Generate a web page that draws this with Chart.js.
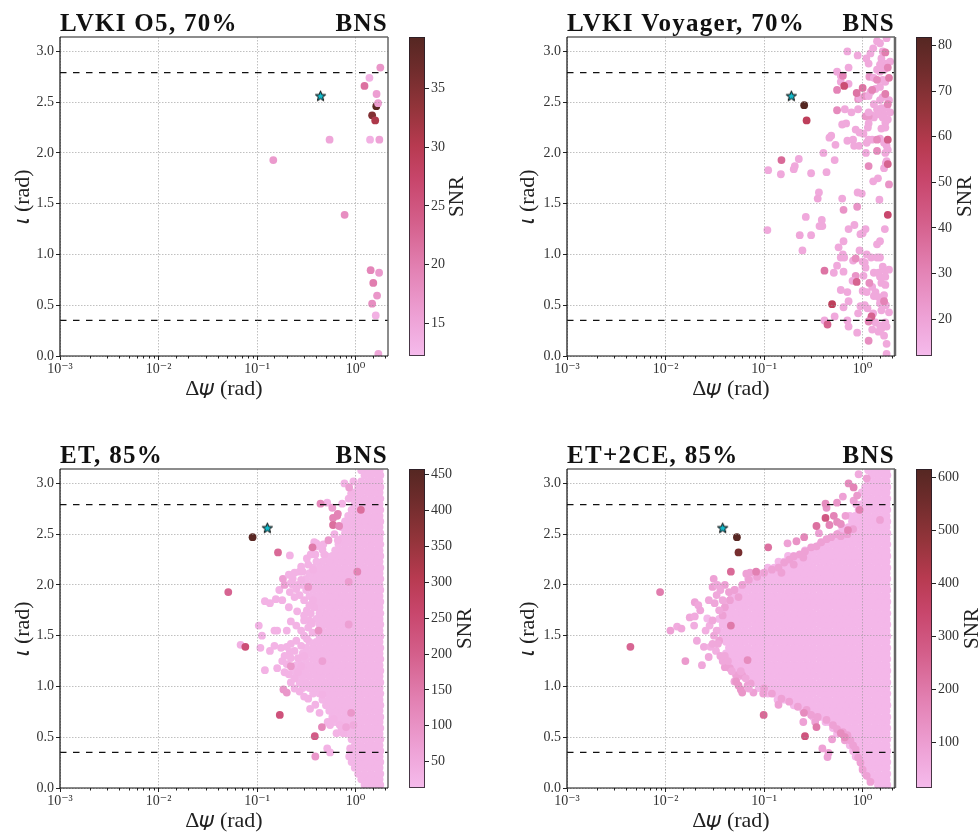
<!DOCTYPE html>
<html><head><meta charset="utf-8">
<script src="https://cdn.jsdelivr.net/npm/chart.js@4"></script>
<style>html,body{margin:0;padding:0;background:#fff;width:979px;height:832px;overflow:hidden}canvas{position:absolute;display:block}</style>
</head><body>
<script>
const cmapStops=[[0,'#f5bbec'],[.12,'#eea2d6'],[.27,'#e382b4'],[.42,'#d45f8b'],[.55,'#c8466c'],[.66,'#b73a50'],[.78,'#92343a'],[.9,'#6f2c2c'],[1,'#552722']];
const titleLeft=['LVKI O5, 70%','LVKI Voyager, 70%','ET, 85%','ET+2CE, 85%'];
const snrMin=[12.2,11.9,13.3,14.5];
const snrMax=[39.4,81.9,458,616];
const snrTicks=[[15,20,25,30,35],[20,30,40,50,60,70,80],[50,100,150,200,250,300,350,400,450],[100,200,300,400,500,600]];
const starX=[.44,.189,.127,.038];
const starY=[2.56,2.56,2.56,2.56];
const dashY=[.35,2.79];
const xMin=1e-3,xMax=2.13,yMax=3.14159;
const o5Points=[[1.78,2.84,17],[1.38,2.74,13.5],[1.23,2.66,21.5],[1.63,2.58,16],[1.62,2.46,39],[1.69,2.49,16],[1.47,2.37,35],[1.58,2.32,31],[.544,2.13,15],[1.4,2.13,13.5],[1.74,2.13,15.5],[.146,1.93,16.5],[.773,1.39,18],[1.42,.845,19],[1.73,.82,16.5],[1.51,.72,20],[1.65,.595,17],[1.47,.515,18],[1.6,.4,13.5],[1.7,.02,15]];
const voyagerPoints=[[.7,3],[.89,2.96],[1.09,2.93],[1.2,2.98],[1.28,3.03],[1.4,3.1],[1.5,3.08],[1.75,3.13],[1.6,3],[1.55,2.93],[1.9,2.9],[1.75,2.88],[1.5,2.87],[1.15,2.88],[.72,2.84],[.55,2.8],[.6,2.76],[.6,2.7],[.72,2.68],[.9,2.53,25],[.93,2.54],[1.05,2.56,25],[1.15,2.56],[1.2,2.6],[1.17,2.75,24],[1.3,2.74],[1.5,2.8],[1.4,2.82],[1.65,2.82],[1.6,2.72],[1.7,2.7],[1.5,2.65],[1.35,2.63],[1.6,2.55],[1.85,2.52],[1.5,2.52],[1.3,2.48],[1.4,2.43],[1.55,2.44],[1.75,2.45],[1.9,2.4],[1.65,2.38],[1.45,2.38],[1.3,2.35],[1.25,2.37],[1.15,2.36,24],[1.07,2.36,24],[1.15,2.4],[1.8,2.33],[1.6,2.35],[1.7,2.3],[1.15,2.29],[1.13,2.25],[1.7,2.25],[1.55,2.24],[.66,2.43],[.77,2.4],[.9,2.43],[.62,2.28],[.68,2.29],[.85,2.23],[.93,2.2],[1.02,2.19],[.46,2.15],[.48,2.17],[.53,2.08],[.7,2.12],[.8,2.13],[.82,2.07],[.92,2.07],[1.1,2.1],[1.15,2.13],[1.25,2.13],[1.5,2.14],[1.65,2.1],[1.75,2.07],[1.8,2.03],[1.7,2],[1.08,2],[.4,2],[.52,1.93],[.225,1.94],[.205,1.87],[.2,1.84],[.11,1.83],[.148,1.79],[.3,1.8],[.43,1.81],[1.75,1.92],[1.65,1.85],[1.72,1.9],[1.28,1.72],[1.43,1.75],[1.85,1.69,25],[.36,1.61],[.35,1.55,19],[.62,1.55],[.89,1.61],[.98,1.6],[1.48,1.54],[.265,1.37],[.385,1.34],[.365,1.28],[.39,1.28],[.825,1.29],[.72,1.25],[1.07,1.25],[1.68,1.25],[.95,1.2],[1,1.21],[.108,1.24],[.23,1.19,19],[.3,1.19],[.64,1.13],[.57,1.07],[1.4,1.1],[1.5,1.13],[.245,1.04],[.93,1.04],[1.1,1],[.63,1],[.6,.97],[.65,.97],[.8,.94],[1,.93],[1.22,.97],[1.4,.97],[1.5,.97],[1.05,.92],[.55,.89],[1.07,.87],[.51,.82],[.64,.83],[1.02,.79],[1.3,.82],[1.45,.82],[1.6,.88],[1.7,.84],[1.85,.85],[1.5,.78],[1.7,.78],[.85,.79,25],[.79,.74],[1.25,.68],[1.55,.72],[1.7,.7],[1.35,.63],[.7,.63],[.6,.65],[1,.64],[1.1,.63],[1.65,.6],[1.3,.59],[1.45,.58],[.72,.54],[1.72,.5],[.64,.48],[.95,.49],[1.05,.5],[1.12,.47],[1.5,.52],[1.55,.45],[1.85,.43],[1.28,.42],[.9,.42],[1.2,.36],[.52,.39],[.41,.35],[.7,.35],[.72,.29],[1.35,.33],[1.5,.3],[1.55,.27],[1.7,.33],[1.25,.26],[1.45,.24],[.88,.23],[1.65,.2],[1.75,.29],[1.75,.12],[1.75,.02],
[1.7,2.99,32],[.63,2.76,30],[.65,2.66,48],[.55,2.62,30],[1,2.64,35],[.87,2.59,35],[1.25,2.62,30],[1.4,2.72,28],[1.8,2.84,30],[1.85,2.74,33],[1.7,2.58,32],[1.8,2.48,30],[.55,2.42,28],[1.4,2.13,28],[1.8,2.13,42],[1.4,2.02,28],[.15,1.93,38],[1.15,1.87,28],[1.8,1.89,40],[.64,1.44,25],[.88,1.47,25],[1.8,1.39,50],[.85,.96,27],[.41,.84,35],[.87,.73,40],[1.17,.72,27],[1.65,.54,30],[.49,.51,55],[1.23,.39,40],[1.15,.34,30],[.44,.31,40],[1.15,.15,27],[.255,2.47,82],[.27,2.32,55]];
const etRows=[[.03,[1.78,1.67,1.43,1.23]],[.085,[1.75,1.55,1.33,1.14]],[.14,[1.78,1.67,1.43,1.23,1.06]],[.2,[1.75,1.55,1.33,1.14,.98]],[.255,[1.78,1.67,1.43,1.23,1.06,.91]],[.31,[1.75,1.55,1.33,1.14,.98,.86]],[.365,[1.78,1.66,1.43,1.23,1.06,.92]],[.42,[1.75,1.55,1.33,1.14,.98]],[.48,[1.78,1.67,1.43,1.23,1.06,.91]],[.535,[1.75,1.55,1.33,1.14,.98,.84]],[.59,[1.78,1.67,1.43,1.23,1.06,.91,.78]],[.65,[1.75,1.55,1.33,1.14,.98,.84,.72,.62]],[.7,[1.78,1.67,1.43,1.23,1.06,.91,.78,.67,.58]],[.76,[1.75,1.55,1.33,1.14,.98,.84,.72,.62,.54]],[.815,[1.78,1.67,1.43,1.23,1.06,.91,.78,.67,.58,.5]],[.87,[1.75,1.55,1.33,1.14,.98,.84,.72,.62,.54,.46]],[.93,[1.78,1.67,1.43,1.23,1.06,.91,.78,.67,.58,.5,.43,.37]],[.985,[1.75,1.55,1.33,1.14,.98,.84,.72,.62,.54,.46,.4,.34,.29]],[1.04,[1.78,1.67,1.43,1.23,1.06,.91,.78,.67,.58,.5,.43,.37,.315,.27]],[1.1,[1.75,1.55,1.33,1.14,.98,.84,.72,.62,.54,.46,.4,.34,.29,.25]],[1.155,[1.78,1.67,1.43,1.23,1.06,.91,.78,.67,.58,.5,.43,.37,.315,.27,.233]],[1.21,[1.75,1.55,1.33,1.14,.98,.84,.72,.62,.54,.46,.4,.34,.29,.25]],[1.27,[1.78,1.67,1.43,1.23,1.06,.91,.78,.67,.58,.5,.43,.37,.315,.27]],[1.325,[1.75,1.55,1.33,1.14,.98,.84,.72,.62,.54,.46,.4,.34,.29]],[1.38,[1.78,1.67,1.43,1.23,1.06,.91,.78,.67,.58,.5,.43,.37,.315]],[1.44,[1.75,1.55,1.33,1.14,.98,.84,.72,.62,.54,.46,.4,.34]],[1.495,[1.78,1.67,1.43,1.23,1.06,.91,.78,.67,.58,.5,.43]],[1.55,[1.75,1.55,1.33,1.14,.98,.84,.72,.62,.54,.46]],[1.61,[1.78,1.67,1.43,1.23,1.06,.91,.78,.67,.58,.5,.43]],[1.665,[1.75,1.55,1.33,1.14,.98,.84,.72,.62,.54,.46,.4]],[1.72,[1.78,1.67,1.43,1.23,1.06,.91,.78,.67,.58,.5,.43]],[1.78,[1.75,1.55,1.33,1.14,.98,.84,.72,.62,.54,.46,.4]],[1.835,[1.78,1.67,1.43,1.23,1.06,.91,.78,.67,.58,.5,.43,.37]],[1.89,[1.75,1.55,1.33,1.14,.98,.84,.72,.62,.54,.46,.4,.34]],[1.95,[1.78,1.67,1.43,1.23,1.06,.91,.78,.67,.58,.5,.43,.37,.315]],[2,[1.75,1.55,1.33,1.14,.98,.84,.72,.62,.54,.46,.4,.34,.29]],[2.06,[1.78,1.67,1.43,1.23,1.06,.91,.78,.67,.58,.5,.43,.37,.315]],[2.115,[1.75,1.55,1.33,1.14,.98,.84,.72,.62,.54,.46,.4,.34]],[2.17,[1.78,1.67,1.43,1.23,1.06,.91,.78,.67,.58,.5,.43,.37]],[2.23,[1.75,1.55,1.33,1.14,.98,.84,.72,.62,.54,.46,.4]],[2.285,[1.78,1.67,1.43,1.23,1.06,.91,.78,.67,.58,.5]],[2.34,[1.75,1.55,1.33,1.14,.98,.84,.72,.62]],[2.4,[1.78,1.67,1.43,1.23,1.06,.91,.78,.67]],[2.455,[1.75,1.55,1.33,1.14,.98,.84,.72]],[2.51,[1.78,1.67,1.43,1.23,1.06,.91,.78]],[2.57,[1.75,1.55,1.33,1.14,.98,.84,.72]],[2.625,[1.78,1.67,1.43,1.23,1.06,.91,.78]],[2.68,[1.75,1.55,1.33,1.14,.98,.84]],[2.74,[1.78,1.67,1.43,1.23,1.06,.91]],[2.795,[1.75,1.55,1.33,1.14,.98]],[2.85,[1.78,1.67,1.43,1.23,1.06,.94]],[2.91,[1.75,1.55,1.33,1.14,.98]],[2.965,[1.78,1.67,1.43,1.23,1.06]],[3.02,[1.75,1.55,1.33,1.14]],[3.08,[1.78,1.67,1.43,1.23]],[3.13,[1.75,1.55,1.33,1.14]]];
const etScatter=[[.104,1.6],[.112,1.5],[.108,1.38],[.12,1.84],[.135,1.82],[.155,1.86],[.18,1.85],[.168,1.95],[.183,2.06,70],[.19,2,70],[.21,2.1],[.23,2.06],[.27,2.13],[.29,2.13],[.28,2.05],[.25,1.96],[.215,1.93],[.27,1.9],[.21,1.78],[.255,1.74],[.32,1.75],[.15,1.55],[.16,1.55],[.2,1.55],[.22,1.64],[.25,1.6],[.28,1.55],[.32,1.47],[.365,1.53],[.135,1.35],[.15,1.4],[.175,1.38],[.2,1.39],[.22,1.42],[.215,1.34],[.18,1.25],[.16,1.18],[.12,1.16],[.19,1.14],[.22,1.04],[.24,.98],[.345,.78],[.515,.39],[.55,.35],[.55,.62],[.64,.54],[.75,.54],[.69,.62],[.88,.39],[.515,2.81],[.215,2.29],[.38,2.42],[.4,2.41],[.77,3],[.26,1.14],[.3,1.3],[.28,1.2],[.34,1.65],[.37,1.85],[.33,2.2],[.39,2.3],[.46,2.35],[.61,2.5],[.66,2.44],[.73,2.8],[.85,2.85],[.9,2.9],[.95,3.02],
[.25,1.45],[.28,1.4],[.3,1.5],[.33,1.58],[.36,1.62],[.3,1.65],[.35,1.72],[.3,1.7],[.38,1.78],[.34,1.8],[.3,1.85],[.24,1.88],[.26,2],[.23,2],[.24,2.12],[.22,2.02],[.28,2.18],[.32,2.26],[.35,2.3],[.4,2.38],[.47,2.4],[.48,2.3],[.37,2.15],[.22,1.28],[.24,1.35],[.26,1.28],[.19,1.3],[.2,1.22],[.21,1.12],[.24,1.08],[.27,.95],[.3,.9],[.33,.88],[.39,.82],[.43,.74],[.52,.65],[.6,.68],[.72,.58],[.46,.92],
[.068,1.41,35],[.33,1.98,90],[.42,1.55,100],[.22,1.2,90],[.185,.97,90],[.2,.94,90],[.455,.6,120],[.39,.31,90],[.53,2.44,90],[.44,2.8,120],[.58,2.76,80],[.86,2.96,70],[.85,2.03,80],[.9,.74,90],[.46,1.25,70],[.85,1.61,70],[.8,.6,60],[.95,.62,50],[.365,2.37,150],[.59,2.66,130],[.65,2.68,130],[.66,2.7,130],[.59,2.59,170],[.68,2.58,120],[1.13,2.74,170],[1.04,2.13,130],[.163,2.32,180],[.051,1.93,190],[.076,1.39,240],[.17,.72,230],[.385,.51,210],[.09,2.47,450]];
const et2ceRows=[[.03,[1.78,1.67,1.43]],[.085,[1.75,1.55,1.33,1.2]],[.14,[1.78,1.67,1.43,1.23,1.06]],[.2,[1.75,1.55,1.33,1.14,1]],[.255,[1.78,1.67,1.43,1.23,1.06,.96]],[.31,[1.75,1.55,1.33,1.14,.98,.85]],[.365,[1.78,1.67,1.43,1.23,1.06,.91,.8]],[.42,[1.75,1.55,1.33,1.14,.98,.84,.74]],[.48,[1.78,1.67,1.43,1.23,1.06,.91,.78,.67]],[.535,[1.75,1.55,1.33,1.14,.98,.84,.72,.62,.55]],[.59,[1.78,1.67,1.43,1.23,1.06,.91,.78,.67,.58,.5]],[.65,[1.75,1.55,1.33,1.14,.98,.84,.72,.62,.54,.46,.42]],[.7,[1.78,1.67,1.43,1.23,1.06,.91,.78,.67,.58,.5,.43,.37,.315]],[.76,[1.75,1.55,1.33,1.14,.98,.84,.72,.62,.54,.46,.4,.34,.29,.25]],[.815,[1.78,1.67,1.43,1.23,1.06,.91,.78,.67,.58,.5,.43,.37,.315,.27,.233,.2]],[.87,[1.75,1.55,1.33,1.14,.98,.84,.72,.62,.54,.46,.4,.34,.29,.25,.215,.185,.16,.137]],[.93,[1.78,1.67,1.43,1.23,1.06,.91,.78,.67,.58,.5,.43,.37,.315,.27,.233,.2,.172,.148,.127,.109]],[.985,[1.75,1.55,1.33,1.14,.98,.84,.72,.62,.54,.46,.4,.34,.29,.25,.215,.185,.16,.137,.118,.101,.088]],[1.04,[1.78,1.67,1.43,1.23,1.06,.91,.78,.67,.58,.5,.43,.37,.315,.27,.233,.2,.172,.148,.127,.109,.094,.081]],[1.1,[1.75,1.55,1.33,1.14,.98,.84,.72,.62,.54,.46,.4,.34,.29,.25,.215,.185,.16,.137,.118,.101,.087,.075,.064,.056]],[1.155,[1.78,1.67,1.43,1.23,1.06,.91,.78,.67,.58,.5,.43,.37,.315,.27,.233,.2,.172,.148,.127,.109,.094,.081,.069,.059,.051]],[1.21,[1.75,1.55,1.33,1.14,.98,.84,.72,.62,.54,.46,.4,.34,.29,.25,.215,.185,.16,.137,.118,.101,.087,.075,.064,.055,.047]],[1.27,[1.78,1.67,1.43,1.23,1.06,.91,.78,.67,.58,.5,.43,.37,.315,.27,.233,.2,.172,.148,.127,.109,.094,.081,.069,.059,.051,.045]],[1.325,[1.75,1.55,1.33,1.14,.98,.84,.72,.62,.54,.46,.4,.34,.29,.25,.215,.185,.16,.137,.118,.101,.087,.075,.064,.055,.047,.041]],[1.38,[1.78,1.67,1.43,1.23,1.06,.91,.78,.67,.58,.5,.43,.37,.315,.27,.233,.2,.172,.148,.127,.109,.094,.081,.069,.059,.051,.044]],[1.44,[1.75,1.55,1.33,1.14,.98,.84,.72,.62,.54,.46,.4,.34,.29,.25,.215,.185,.16,.137,.118,.101,.087,.075,.064,.055,.047,.041]],[1.495,[1.78,1.67,1.43,1.23,1.06,.91,.78,.67,.58,.5,.43,.37,.315,.27,.233,.2,.172,.148,.127,.109,.094,.081,.069,.059,.051,.044,.038]],[1.55,[1.75,1.55,1.33,1.14,.98,.84,.72,.62,.54,.46,.4,.34,.29,.25,.215,.185,.16,.137,.118,.101,.087,.075,.064,.055,.047,.041,.035]],[1.61,[1.78,1.67,1.43,1.23,1.06,.91,.78,.67,.58,.5,.43,.37,.315,.27,.233,.2,.172,.148,.127,.109,.094,.081,.069,.059,.051,.044,.038]],[1.665,[1.75,1.55,1.33,1.14,.98,.84,.72,.62,.54,.46,.4,.34,.29,.25,.215,.185,.16,.137,.118,.101,.087,.075,.064,.055,.047,.041,.035]],[1.72,[1.78,1.67,1.43,1.23,1.06,.91,.78,.67,.58,.5,.43,.37,.315,.27,.233,.2,.172,.148,.127,.109,.094,.081,.069,.059,.051,.044,.038]],[1.78,[1.75,1.55,1.33,1.14,.98,.84,.72,.62,.54,.46,.4,.34,.29,.25,.215,.185,.16,.137,.118,.101,.087,.075,.064,.055,.047,.041]],[1.835,[1.78,1.67,1.43,1.23,1.06,.91,.78,.67,.58,.5,.43,.37,.315,.27,.233,.2,.172,.148,.127,.109,.094,.081,.069,.059,.051,.044]],[1.89,[1.75,1.55,1.33,1.14,.98,.84,.72,.62,.54,.46,.4,.34,.29,.25,.215,.185,.16,.137,.118,.101,.087,.075,.064,.055,.047]],[1.95,[1.78,1.67,1.43,1.23,1.06,.91,.78,.67,.58,.5,.43,.37,.315,.27,.233,.2,.172,.148,.127,.109,.094,.081,.069,.059,.051]],[2,[1.75,1.55,1.33,1.14,.98,.84,.72,.62,.54,.46,.4,.34,.29,.25,.215,.185,.16,.137,.118,.101,.087,.075,.064]],[2.06,[1.78,1.67,1.43,1.23,1.06,.91,.78,.67,.58,.5,.43,.37,.315,.27,.233,.2,.172,.148,.127,.109,.094,.081,.069]],[2.115,[1.75,1.55,1.33,1.14,.98,.84,.72,.62,.54,.46,.4,.34,.29,.25,.215,.185,.16,.137,.118,.101,.087]],[2.17,[1.78,1.67,1.43,1.23,1.06,.91,.78,.67,.58,.5,.43,.37,.315,.27,.233,.2,.172,.148,.127,.109]],[2.23,[1.75,1.55,1.33,1.14,.98,.84,.72,.62,.54,.46,.4,.34,.29,.25,.215,.185,.16,.14]],[2.285,[1.78,1.67,1.43,1.23,1.06,.91,.78,.67,.58,.5,.43,.37,.315,.27,.233,.2,.175]],[2.34,[1.75,1.55,1.33,1.14,.98,.84,.72,.62,.54,.46,.4,.34,.29,.26]],[2.4,[1.78,1.67,1.43,1.23,1.06,.91,.78,.67,.58,.5,.43,.37]],[2.455,[1.75,1.55,1.33,1.14,.98,.84,.72,.62,.54,.46]],[2.51,[1.78,1.67,1.43,1.23,1.06,.91,.78,.67,.58]],[2.57,[1.75,1.55,1.33,1.14,.98,.84,.72,.62]],[2.625,[1.78,1.67,1.43,1.23,1.06,.91,.78]],[2.68,[1.75,1.55,1.33,1.14,.98,.84,.74]],[2.74,[1.78,1.67,1.43,1.23,1.06,.91]],[2.795,[1.75,1.55,1.33,1.14,.98,.86]],[2.85,[1.78,1.67,1.43,1.23,1.06]],[2.91,[1.75,1.55,1.33,1.14,.98]],[2.965,[1.78,1.67,1.43,1.23,1.06]],[3.02,[1.75,1.55,1.33,1.14]],[3.08,[1.78,1.67,1.43,1.23]],[3.13,[1.75,1.55,1.33,1.14]]];
const et2ceScatter=[[.0112,1.55],[.0131,1.59,60],[.0145,1.57,70],[.0159,1.25,110],[.0176,1.68,70],[.0198,1.69,60],[.0198,1.83,85],[.0215,1.8,70],[.0225,1.75,75],[.0195,1.6,55],[.0208,1.45,65],[.0234,1.21,70],[.0245,1.39,60],[.0274,1.29,70],[.0285,1.39,50],[.0255,1.55,50],[.0265,1.67,20],[.028,1.6,50],[.0275,1.85,70],[.03,1.98,90],[.0308,2.06,90],[.0335,2,70],[.0315,1.82,75],[.033,1.55,60],[.0325,1.35,50],[.035,1.45,90],[.04,1.19],[.045,1.18],[.052,1.11],[.06,1.11],[.068,1.01],[.073,1.03],[.078,.94],[.098,.93],[.04,2],[.044,1.93],[.072,2.12],[.066,2.11],[.14,.82],[.25,.65],[.33,.65],[.39,.39],[.45,.345],[.44,.305],[.49,.48],[.66,.47],[.173,2.41],[.36,2.51],[.63,2.87],[.91,3.09,60],[.81,2.83],[.67,2.68],[1.5,2.64],[1.1,3.05],[.1,2.12],[.12,2.15],[.14,2.17],[.16,2.22],[.18,2.25],[.2,2.28],[.23,2.3],[.26,2.33],[.3,2.37],[.34,2.38],[.38,2.42],[.43,2.45],[.48,2.47],[.55,2.5],[.6,2.48],[.7,2.5],[.8,2.55],[.07,2.05],[.085,2.08],[.06,2],[.05,1.95],[.055,1.88],[.045,1.85],[.04,1.78],[.038,1.7],[.15,2.12],[.2,2.2],[.25,2.27],[.1,.98],[.12,.93],[.15,.88],[.18,.85],[.22,.8],[.27,.77],[.3,.72],[.35,.7],[.43,.67],[.5,.62],[.55,.58],[.63,.55],[.7,.52],[.75,.47],[.8,.42],[.85,.38],[.9,.3],[.95,.25],[1,.18],[1.1,.12],[1.2,.06],
[.036,1.95,70],[.033,1.9,70],[.038,1.85,70],[.035,1.75,70],[.03,1.65,70],[.031,1.5,70],[.034,1.42,70],[.03,1.42,70],[.036,1.3,70],[.038,1.25,70],[.04,1.3,70],[.043,1.25,70],[.047,1.15,70],[.05,1.05,70],[.058,1.15,70],[.065,1.08,70],[.07,.98,70],
[.052,1.05,120],[.055,1.01,120],[.058,.97,120],[.06,.94,120],[.046,1.6,200],[.068,1.26,150],[.6,.54,150],[.66,.5,150],[.254,.74,150],[.213,2.43,130],[.255,2.47,160],[.43,2.76,130],[.42,2.8,150],[.51,2.68,170],[.46,2.59,170],[.55,2.81,120],[.72,3,150],[.81,2.96,170],[.88,2.88,110],[.93,2.74,180],[.71,2.54,170],[.55,2.62,150],[.6,2.6,140],[.34,.6,200],[.34,2.58,220],[.083,2.13,180],[.046,2.13,240],[.0088,1.93,190],[.11,2.37,220],[.42,2.66,290],[.0044,1.39,250],[.099,.72,240],[.26,.51,300],[.055,2.32,540],[.053,2.47,610]];
const bodyS=25;

function colorAt(f){f=Math.max(0,Math.min(1,f));
 for(let i=1;i<cmapStops.length;i++){if(f<=cmapStops[i][0]){const [a,ca]=cmapStops[i-1],[b,cb]=cmapStops[i];const t=(f-a)/(b-a);
  const p=(c,k)=>parseInt(c.substr(1+2*k,2),16);
  return 'rgb('+[0,1,2].map(k=>Math.round(p(ca,k)+(p(cb,k)-p(ca,k))*t)).join(',')+')';}}
 return cmapStops[cmapStops.length-1][1];}
const fromList=(l,s0)=>l.map(([x,y,s])=>({x,y,s:s??s0}));
const fromRows=(r,s)=>r.flatMap(([y,xs])=>xs.map(x=>({x,y,s})));
const panelData=[fromList(o5Points,15),fromList(voyagerPoints,18),
 fromRows(etRows,bodyS).concat(fromList(etScatter,30)),
 fromRows(et2ceRows,bodyS).concat(fromList(et2ceScatter,90))];

function starImage(){const c=document.createElement('canvas');c.width=c.height=13;const g=c.getContext('2d');g.beginPath();
 for(let i=0;i<10;i++){const r=i%2?2.3:5.4,a=-Math.PI/2+i*Math.PI/5;g.lineTo(6.5+r*Math.cos(a),6.8+r*Math.sin(a));}
 g.closePath();g.fillStyle='#14bccd';g.fill();g.lineWidth=1;g.strokeStyle='#000';g.stroke();return c;}
const star=starImage();
const serif='"Liberation Serif","DejaVu Serif",serif';
const sup={'-':'⁻','0':'⁰','1':'¹','2':'²','3':'³'};
const decadeLabel=v=>'10'+String(Math.round(Math.log10(v))).split('').map(c=>sup[c]).join('');

const framePlugin={id:'frame',afterDraw(ch,_,o){const {left,right,top,bottom}=ch.chartArea,g=ch.ctx;g.save();
 const xs=ch.scales.x;g.strokeStyle='#222';g.lineWidth=1;g.beginPath();
 xs.ticks.forEach(t=>{if(!t.major){const px=Math.round(xs.getPixelForValue(t.value))+.5;if(px<right-1){g.moveTo(px,bottom);g.lineTo(px,bottom+2.5);}}});g.stroke();
 g.strokeStyle='#666';g.lineWidth=1.5;g.beginPath();g.moveTo(left,top);g.lineTo(right,top);g.stroke();
 g.lineWidth=o.rightWidth;g.beginPath();g.moveTo(right,top);g.lineTo(right,bottom);g.stroke();
 g.strokeStyle='#111';g.lineWidth=1.2;g.beginPath();g.moveTo(left,top);g.lineTo(left,bottom);g.lineTo(right,bottom);g.stroke();
 g.fillStyle='#111';g.font='bold 25px '+serif;if('letterSpacing' in g)g.letterSpacing='1.3px';g.textBaseline='alphabetic';
 g.textAlign='left';g.fillText(o.left,left,31);g.textAlign='right';g.fillText('BNS',right,31);g.restore();}};
const barPlugin={id:'cbarText',afterDraw(ch,_,o){const {left,right,top,bottom}=ch.chartArea,g=ch.ctx;g.save();
 g.strokeStyle='rgba(40,30,40,.85)';g.lineWidth=1;g.strokeRect(left+.5,top+.5,right-left-1,bottom-top-1);
 g.translate(o.x,(top+bottom)/2);g.rotate(-Math.PI/2);g.fillStyle='#222';g.font='21px '+serif;g.textAlign='center';g.textBaseline='middle';g.fillText('SNR',0,0);g.restore();}};

function mk(l,t,w,h){const c=document.createElement('canvas');c.width=w;c.height=h;c.style.left=l+'px';c.style.top=t+'px';c.style.width=w+'px';c.style.height=h+'px';document.body.appendChild(c);return c;}

const panelLeft=[0,507,0,507],panelTop=[0,0,432,432],titleOff=[12,10,12,10],rightW=[1.5,2.5,1.5,2.5];
const barLeft=[400,907,400,907],barWidth=[80,72,80,72],snrX=[57,58,65,65];
for(let i=0;i<4;i++){
 const norm=s=>(s-snrMin[i])/(snrMax[i]-snrMin[i]);
 const lineDs=y=>({data:[{x:xMin,y},{x:xMax,y}],showLine:true,pointRadius:0,borderColor:'#111',borderWidth:1.2,borderDash:[6.5,6.5],order:1});
 new Chart(mk(panelLeft[i],panelTop[i],400,400),{type:'scatter',
  data:{datasets:[
   {data:panelData[i],order:3,pointRadius:3.9,pointBorderWidth:0,pointHoverRadius:3.9,pointBackgroundColor:c=>colorAt(norm(c.raw.s))},
   lineDs(dashY[0]),lineDs(dashY[1]),
   {data:[{x:starX[i],y:starY[i]}],order:0,pointStyle:star,pointRadius:6,clip:false}
  ]},
  plugins:[framePlugin],
  options:{responsive:false,animation:false,events:[],devicePixelRatio:1,
   layout:{padding:{top:37,right:12,left:0,bottom:0}},
   plugins:{legend:{display:false},tooltip:{enabled:false},frame:{left:titleLeft[i],rightWidth:rightW[i]}},
   scales:{
    x:{type:'logarithmic',min:xMin,max:xMax,afterFit:s=>{s.height=44;},
     grid:{z:1,color:c=>c.tick&&c.tick.major?'rgba(150,150,150,.6)':'rgba(0,0,0,0)',tickColor:c=>c.tick&&c.tick.major?'#222':'rgba(0,0,0,0)',lineWidth:1,tickLength:4},
     border:{display:false,dash:[1.5,1.5]},
     ticks:{autoSkip:false,maxRotation:0,minRotation:0,padding:1,color:'#333',font:{family:serif,size:14},callback(v,idx,arr){return arr[idx].major?decadeLabel(v):'';}},
     title:{display:true,text:'Δ𝜓 (rad)',color:'#222',font:{family:serif,size:22,lineHeight:1},padding:{top:0,bottom:0}}},
    y:{min:0,max:yMax,afterFit:s=>{s.width=60;},
     grid:{z:1,color:'rgba(150,150,150,.6)',tickColor:'#222',tickLength:4},
     border:{display:false,dash:[1.5,1.5]},
     ticks:{stepSize:.5,includeBounds:false,padding:2,color:'#333',font:{family:serif,size:14},callback:v=>v.toFixed(1)},
     title:{display:true,text:'𝜄 (rad)',color:'#222',font:{family:serif,size:22,lineHeight:1},padding:{top:titleOff[i],bottom:0}}}
   }}});
 const bw=barWidth[i];
 new Chart(mk(barLeft[i],panelTop[i],bw,400),{type:'bar',
  data:{labels:['SNR'],datasets:[{data:[[snrMin[i],snrMax[i]]],barPercentage:1,categoryPercentage:1,borderWidth:0,
   backgroundColor:c=>{const a=c.chart.chartArea;if(!a)return '#f5bbec';const g=c.chart.ctx.createLinearGradient(0,a.bottom,0,a.top);cmapStops.forEach(([p,col])=>g.addColorStop(p,col));return g;}}]},
  plugins:[barPlugin],
  options:{responsive:false,animation:false,events:[],devicePixelRatio:1,
   layout:{padding:{top:37,bottom:44,left:9,right:0}},
   plugins:{legend:{display:false},tooltip:{enabled:false},cbarText:{x:snrX[i]}},
   scales:{
    x:{display:false},
    y:{position:'right',min:snrMin[i],max:snrMax[i],afterFit:s=>{s.width=bw-25;},
     afterBuildTicks:s=>{s.ticks=snrTicks[i].map(value=>({value}));},
     grid:{drawOnChartArea:false,tickColor:'#222',tickLength:4},border:{display:false},
     ticks:{padding:2,color:'#333',font:{family:serif,size:14},callback:v=>String(v)}}
   }}});
}
</script>
</body></html>
